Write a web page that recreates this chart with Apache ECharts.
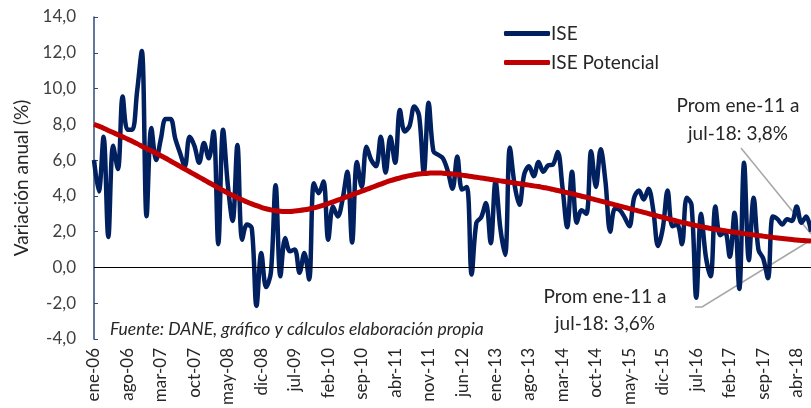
<!DOCTYPE html>
<html>
<head>
<meta charset="utf-8">
<script src="https://cdn.jsdelivr.net/npm/echarts@6/dist/echarts.min.js"></script>
<style>
  html, body { margin: 0; padding: 0; background: #fff; }
  #chart { width: 811px; height: 408px; }
</style>
</head>
<body>
<div id="chart"></div>
<script>
// meses ene-06 .. jul-18
var meses = ['ene','feb','mar','abr','may','jun','jul','ago','sep','oct','nov','dic'];
var anios = ['06','07','08','09','10','11','12','13','14','15','16','17','18'];

// ISE variación anual (%)
var ise = [
  6.0, 4.25, 7.3, 1.7, 6.8, 5.5, 9.55, 7.7, 7.7, 9.8, 12.1, 2.86,
  7.8, 6.0, 7.2, 8.3, 8.3, 7.2, 6.4, 5.65, 7.3, 6.8, 5.85, 6.95,
  6.1, 7.6, 1.3, 7.7, 4.6, 2.6, 6.85, 1.55, 2.4, 2.2, -2.15, 0.8,
  -1.1, -0.3, 4.6, -0.5, 1.65, 0.9, 1.0, -0.3, 0.8, -0.67, 4.7, 4.15,
  4.8, 1.55, 3.4, 2.85, 3.8, 5.35, 1.4, 5.9, 4.5, 6.75, 6.0, 5.65,
  7.3, 5.3, 7.3, 5.85, 8.8, 7.6, 7.9, 9.0, 8.5, 5.3, 9.2, 6.5,
  6.3, 6.1, 5.4, 4.4, 6.2, 4.35, 4.5, -0.4, 2.5, 2.8, 3.6, 1.35,
  4.8, 2.2, 0.7, 6.7, 4.6, 3.5, 5.2, 5.65, 5.1, 5.9, 5.35, 5.7,
  5.75, 6.45, 4.5, 2.25, 5.35, 2.5, 3.2, 3.0, 6.5, 4.5, 6.6, 4.8,
  2.0, 3.3, 3.2, 2.8, 2.3, 3.9, 4.3, 3.8, 4.4, 3.2, 1.2, 2.2,
  4.3, 2.3, 2.4, 1.3, 3.9, 3.5, -1.7, 3.0, 0.6, -0.5, 3.4, 1.8,
  2.0, 0.6, 3.05, -1.2, 5.85, 0.4, 3.9, 1.0, 0.5, -0.6, 2.85, 2.7,
  2.4, 2.7, 2.6, 3.4, 2.5, 2.85, 2.0
];

// ISE potencial (%)
var potencial = [
  8.0, 7.9, 7.78, 7.66, 7.54, 7.42, 7.3, 7.18, 7.05, 6.92, 6.78, 6.65,
  6.52, 6.38, 6.24, 6.1, 5.95, 5.8, 5.65, 5.5, 5.35, 5.2, 5.05, 4.9,
  4.75, 4.6, 4.45, 4.3, 4.16, 4.03, 3.9, 3.78, 3.66, 3.55, 3.45, 3.36,
  3.28, 3.22, 3.17, 3.14, 3.13, 3.13, 3.15, 3.18, 3.22, 3.27, 3.33, 3.4,
  3.48, 3.57, 3.66, 3.76, 3.86, 3.96, 4.06, 4.16, 4.26, 4.36, 4.46, 4.56,
  4.66, 4.76, 4.85, 4.93, 5.0, 5.07, 5.13, 5.18, 5.22, 5.25, 5.27, 5.28,
  5.28, 5.27, 5.25, 5.22, 5.19, 5.16, 5.12, 5.08, 5.04, 5.0, 4.96, 4.92,
  4.88, 4.84, 4.8, 4.76, 4.72, 4.68, 4.64, 4.6, 4.56, 4.52, 4.47, 4.42,
  4.36, 4.3, 4.24, 4.18, 4.12, 4.05, 3.98, 3.92, 3.85, 3.78, 3.71, 3.64,
  3.57, 3.5, 3.43, 3.36, 3.29, 3.22, 3.15, 3.08, 3.01, 2.94, 2.87, 2.8,
  2.73, 2.66, 2.59, 2.52, 2.46, 2.4, 2.34, 2.28, 2.23, 2.18, 2.13, 2.09,
  2.05, 2.01, 1.97, 1.93, 1.89, 1.86, 1.82, 1.79, 1.75, 1.72, 1.68, 1.65,
  1.62, 1.59, 1.56, 1.53, 1.51, 1.49, 1.47
];

var categorias = [];
for (var a = 0; a < anios.length; a++) {
    for (var m = 0; m < meses.length; m++) {
        if (categorias.length < ise.length) categorias.push(meses[m] + '-' + anios[a]);
    }
}

var fuente = 'Lato, "Noto Sans", sans-serif';
var gris = '#262626';
var myChart = echarts.init(document.getElementById('chart'));

var option = {
    animation: false,
    textStyle: { fontFamily: fuente },
    grid: { left: 94, top: 17, width: 718, height: 323, containLabel: false },
    legend: {
        orient: 'vertical',
        left: 499,
        top: 19,
        icon: 'roundRect',
        itemWidth: 46,
        itemHeight: 5,
        itemGap: 10,
        textStyle: { fontSize: 19, color: gris, fontFamily: fuente, padding: [0, 0, 0, -4] },
        data: ['ISE', 'ISE Potencial']
    },
    xAxis: {
        type: 'category',
        boundaryGap: false,
        data: categorias,
        axisLine: { show: false, onZero: false },
        axisTick: { show: false },
        axisLabel: {
            interval: 6,
            rotate: 90,
            margin: 9,
            fontSize: 17,
            color: gris
        }
    },
    yAxis: {
        type: 'value',
        min: -4,
        max: 14,
        interval: 2,
        name: 'Variación anual (%)',
        nameLocation: 'middle',
        nameGap: 60,
        nameTextStyle: { fontSize: 19, color: gris },
        splitLine: { show: false },
        axisLine: { show: true, lineStyle: { color: '#2F4A7A', width: 1.5 } },
        axisTick: { show: true, inside: true, length: 4, lineStyle: { color: '#2F4A7A' } },
        axisLabel: {
            fontSize: 17,
            color: '#404040',
            margin: 18,
            formatter: function (v) { return v.toFixed(1).replace('.', ','); }
        }
    },
    series: [
        {
            name: 'ISE',
            type: 'line',
            data: ise,
            smooth: 0.35,
            showSymbol: false,
            symbol: 'none',
            lineStyle: { color: '#002060', width: 4.5 },
            itemStyle: { color: '#002060' },
            z: 3,
            markLine: {
                silent: true,
                symbol: 'none',
                label: { show: false },
                lineStyle: { color: '#000', width: 1.2, type: 'solid' },
                data: [{ yAxis: 0 }]
            }
        },
        {
            name: 'ISE Potencial',
            type: 'line',
            data: potencial,
            smooth: true,
            showSymbol: false,
            symbol: 'none',
            lineStyle: { color: '#C00000', width: 5 },
            itemStyle: { color: '#C00000' },
            z: 4
        }
    ],
    graphic: [
        {
            type: 'text', x: 110, y: 320,
            style: {
                text: 'Fuente: DANE, gráfico y cálculos elaboración propia',
                font: 'italic 17.5px ' + fuente, fill: gris
            }
        },
        {
            type: 'text', x: 738, y: 92,
            style: {
                text: 'Prom ene-11 a\njul-18: 3,8%', align: 'center', verticalAlign: 'top',
                font: '19px ' + fuente, fill: gris, lineHeight: 28
            }
        },
        {
            type: 'text', x: 605, y: 283,
            style: {
                text: 'Prom ene-11 a\njul-18: 3,6%', align: 'center', verticalAlign: 'top',
                font: '19px ' + fuente, fill: gris, lineHeight: 27
            }
        },
        {
            type: 'polyline', silent: true,
            shape: { points: [[741, 148], [811, 234]] },
            style: { stroke: '#A6A6A6', lineWidth: 1.5, fill: null }
        },
        {
            type: 'polyline', silent: true,
            shape: { points: [[695, 307], [702, 307], [811, 240]] },
            style: { stroke: '#A6A6A6', lineWidth: 1.5, fill: null }
        }
    ]
};

myChart.setOption(option);
</script>
</body>
</html>
